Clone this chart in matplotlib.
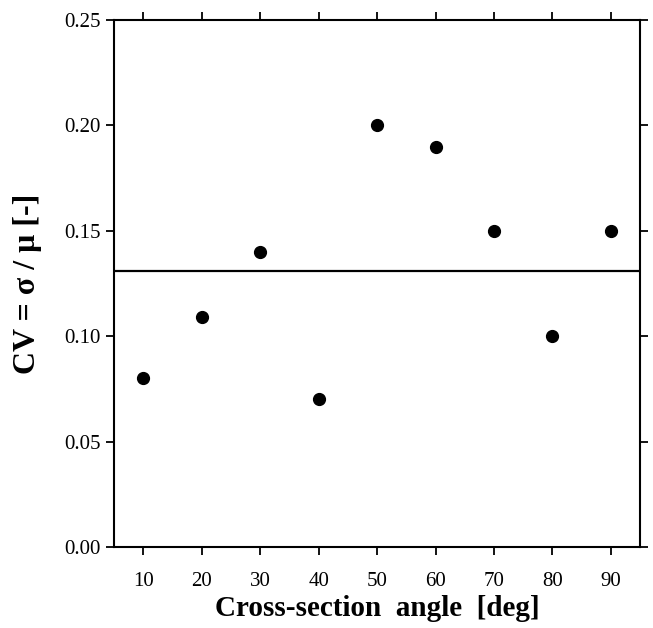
import matplotlib
matplotlib.use("Agg")
import matplotlib.pyplot as plt

angles = [10, 20, 30, 40, 50, 60, 70, 80, 90]
cv = [0.08, 0.109, 0.14, 0.07, 0.20, 0.19, 0.15, 0.10, 0.15]
cv_mean = 0.131
xticks = [10, 20, 30, 40, 50, 60, 70, 80, 90]
yticks = [0.00, 0.05, 0.10, 0.15, 0.20, 0.25]

plt.rcParams["font.family"] = ["Liberation Serif", "DejaVu Serif"]

fig = plt.figure(figsize=(6.53, 6.28), dpi=100)
ax = fig.add_axes([0.175, 0.129, 0.805, 0.839])

ax.plot(angles, cv, "o", color="black", markersize=8.5)
ax.axhline(cv_mean, color="black", linewidth=1.6)

ax.set_xlim(5, 95)
ax.set_ylim(0, 0.25)
ax.set_xticks(xticks)
ax.set_yticks(yticks)
ax.set_yticklabels([f"{v:.2f}" for v in yticks])
ax.tick_params(direction="out", length=6, width=1.3, labelsize=15,
               top=True, right=True, pad=4)
ax.tick_params(axis="x", pad=12)
for s in ax.spines.values():
    s.set_linewidth(1.5)

ax.set_xlabel("Cross-section  angle  [deg]", fontsize=21, fontweight="bold", labelpad=3)
ax.set_ylabel("CV = σ / μ [-]", fontsize=23, fontweight="bold", labelpad=16)

fig.savefig("out.png", dpi=100)
